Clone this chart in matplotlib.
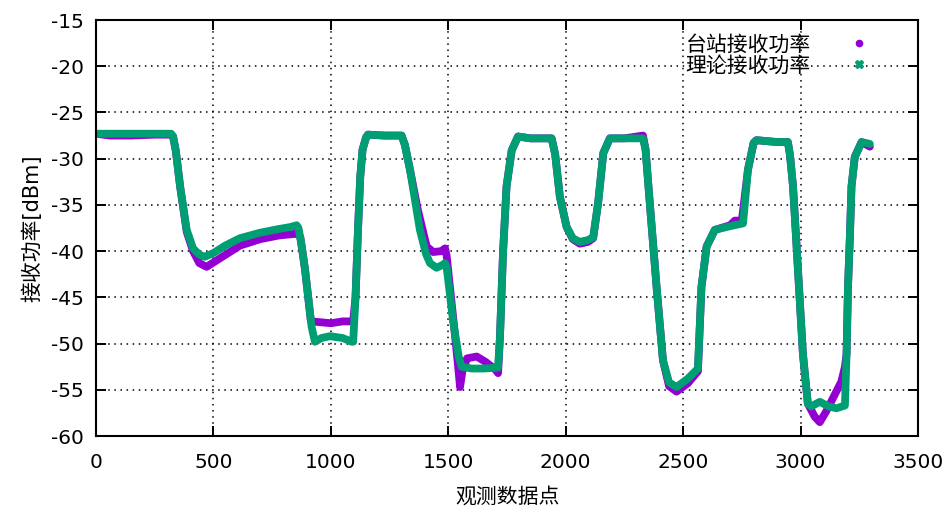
import matplotlib.pyplot as plt
from matplotlib.lines import Line2D

plt.rcParams['font.family'] = ['DejaVu Sans', 'Noto Sans CJK SC']
plt.rcParams['axes.unicode_minus'] = False

# 理论接收功率 (green)
theory_x = [0, 320, 328, 340, 358, 386, 413, 440, 464, 500, 550, 613, 700, 780, 826, 854, 862,
            875, 890, 918, 932, 960, 996, 1050, 1088, 1095, 1105, 1115, 1125, 1135, 1150, 1158,
            1230, 1301, 1315, 1337, 1379, 1405, 1422, 1450, 1475, 1486, 1493, 1520, 1545,
            1557, 1600, 1650, 1712, 1720, 1733, 1748, 1770, 1797, 1850, 1940, 1955, 1975,
            2004, 2030, 2060, 2095, 2117, 2138, 2160, 2188, 2250, 2329, 2340, 2358, 2387,
            2414, 2440, 2472, 2520, 2563, 2578, 2600, 2635, 2700, 2755, 2776, 2800, 2812,
            2900, 2946, 2955, 2968, 2989, 3010, 3031, 3045, 3082, 3120, 3153, 3189, 3196, 3202,
            3210, 3217, 3231, 3260, 3295]
theory_y = [-27.3, -27.3, -27.6, -29.2, -33.0, -37.7, -39.7, -40.4, -40.6, -40.2, -39.4, -38.6,
            -38.0, -37.6, -37.4, -37.2, -37.5, -39.3, -42.0, -48.2, -49.8, -49.4, -49.2, -49.4,
            -49.8, -49.8, -45.0, -38.0, -32.0, -29.0, -27.7, -27.4, -27.5, -27.5, -28.5, -31.2,
            -37.7, -40.3, -41.3, -41.8, -41.5, -41.3, -41.7, -47.5, -51.5, -52.5, -52.7, -52.7,
            -52.6, -49.3, -40.2, -33.0, -29.1, -27.6, -27.8, -27.8, -29.5, -34.1, -37.4, -38.6,
            -39.0, -38.8, -38.5, -34.8, -29.4, -27.8, -27.8, -27.8, -29.0, -34.8, -43.9, -51.8,
            -54.2, -54.7, -53.8, -52.7, -43.9, -39.5, -37.7, -37.3, -37.0, -31.2, -28.3, -28.0,
            -28.2, -28.2, -29.6, -33.0, -42.0, -51.1, -56.5, -56.8, -56.3, -56.8, -57.0, -56.7,
            -51.1, -43.9, -38.5, -33.0, -29.8, -28.2, -28.4]

# 台站接收功率 (purple)
station_x = [0, 60, 150, 250, 320, 328, 340, 358, 386, 413, 440, 471, 520, 613, 700, 780, 860,
             870, 890, 915, 960, 1000, 1050, 1095, 1105, 1115, 1125, 1135, 1150, 1158, 1230, 1301,
             1315, 1337, 1370, 1408, 1436, 1470, 1486, 1493, 1520, 1540, 1550, 1560, 1580, 1621,
             1660, 1700, 1712, 1720, 1733, 1748, 1770, 1797, 1850, 1940, 1955, 1975, 2004, 2030,
             2060, 2095, 2117, 2138, 2160, 2188, 2250, 2329, 2340, 2358, 2387, 2414, 2440, 2472,
             2520, 2563, 2578, 2600, 2635, 2700, 2720, 2750, 2776, 2800, 2812, 2900, 2946, 2955,
             2968, 2989, 3010, 3031, 3060, 3082, 3110, 3150, 3174, 3189, 3196, 3202, 3210, 3217,
             3231, 3260, 3295]
station_y = [-27.3, -27.5, -27.5, -27.4, -27.4, -27.6, -29.2, -33.0, -37.9, -40.0, -41.3, -41.7,
             -40.9, -39.4, -38.7, -38.3, -38.1, -38.5, -42.0, -47.6, -47.7, -47.8, -47.6, -47.6,
             -45.0, -38.0, -32.0, -29.0, -27.7, -27.4, -27.5, -27.5, -28.5, -31.2, -35.5, -39.5,
             -40.1, -40.0, -39.7, -40.5, -47.0, -52.0, -54.7, -53.0, -51.6, -51.4, -52.0, -52.8,
             -53.2, -49.3, -40.2, -33.0, -29.1, -27.6, -27.8, -27.8, -29.5, -34.1, -37.4, -38.7,
             -39.2, -39.0, -38.6, -34.8, -29.4, -27.8, -27.8, -27.5, -29.0, -34.8, -43.9, -51.8,
             -54.6, -55.2, -54.3, -53.0, -43.9, -39.5, -37.7, -37.2, -36.7, -36.7, -31.2, -28.3,
             -28.0, -28.2, -28.2, -29.6, -33.0, -42.0, -51.1, -56.5, -57.9, -58.5, -57.3, -55.3,
             -54.1, -52.5, -51.1, -43.9, -38.5, -33.0, -29.8, -28.2, -28.7]

purple = '#9400d3'
green = '#009e73'

fig = plt.figure(figsize=(9.49, 5.12), dpi=100)
ax = fig.add_axes([0.1012, 0.1484, 0.8661, 0.8125])

ax.plot(station_x, station_y, color=purple, lw=5.6, solid_joinstyle='round', solid_capstyle='round')
ax.plot(theory_x, theory_y, color=green, lw=5.6, solid_joinstyle='round', solid_capstyle='round')

ax.set_xlim(0, 3500)
ax.set_ylim(-60, -15)
ax.set_xticks(range(0, 3501, 500))
ax.set_yticks(range(-60, -14, 5))
ax.grid(True, color='black', linestyle=(0, (1, 3)), linewidth=1.1)
ax.tick_params(direction='in', length=7, width=1.4, top=True, right=True, labelsize=14.5)
ax.tick_params(axis='x', pad=12)
ax.tick_params(axis='y', pad=9)
for s in ax.spines.values():
    s.set_linewidth(1.5)

ax.set_xlabel('观测数据点', fontsize=15, labelpad=11)
ax.set_ylabel('接收功率[dBm]', fontsize=15, labelpad=6)

handles = [Line2D([], [], color=purple, marker='o', ls='none', markersize=4.5),
           Line2D([], [], color=green, marker='X', ls='none', markersize=6)]
ax.legend(handles, ['台站接收功率', '理论接收功率'], loc='upper right', bbox_to_anchor=(0.966, 0.985),
          frameon=False, markerfirst=False, fontsize=15, handlelength=2.2, handletextpad=1.2,
          labelspacing=0.05, borderaxespad=0)

fig.savefig('out.png', dpi=100)
